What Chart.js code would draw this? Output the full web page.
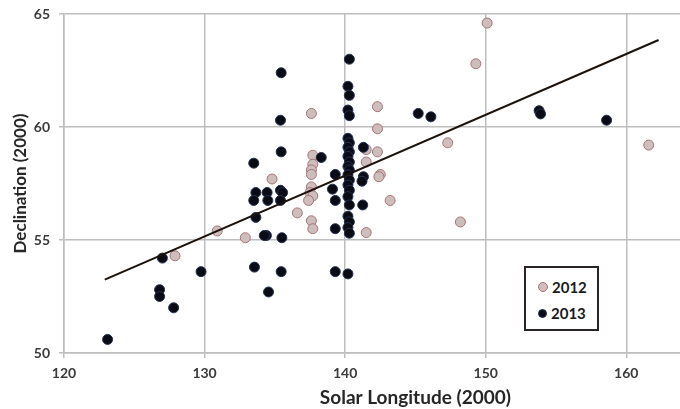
<!DOCTYPE html>
<html>
<head>
<meta charset="utf-8">
<script src="https://cdn.jsdelivr.net/npm/chart.js@4"></script>
<style>
  html, body { margin: 0; padding: 0; background: #fff; overflow: hidden; }
  #wrap { position: relative; width: 680px; height: 409px; overflow: hidden; }
  #myChart { position: absolute; left: 0; top: 0; }
  #legend {
    position: absolute; left: 524px; top: 266px; width: 71px; height: 61px;
    border: 2px solid #2b2424; background: #fff;
    font: bold 15px Lato, "Open Sans", sans-serif; color: #1a1a1a;
  }
  #legend .item { position: absolute; left: 12px; height: 16px; line-height: 16px; }
  #legend .dot { display: inline-block; border-radius: 50%; vertical-align: middle; margin-right: 4px; }
  #legend span { vertical-align: middle; }
</style>
</head>
<body>
<div id="wrap">
  <canvas id="myChart" width="786" height="409"></canvas>
  <div id="legend"></div>
</div>
<script>
// series
let years = ['2012', '2013'];

let lon2012 = [127.9, 130.9, 132.9, 134.8, 136.6, 137.6,
  137.7, 137.7, 137.6, 137.6, 137.6, 137.5, 137.7, 137.4, 137.6, 137.7,
  141.5, 142.3, 141.5, 142.5, 142.4, 143.2, 141.5, 142.3, 142.3,
  147.3, 148.2, 149.3, 150.1, 161.6];
let dec2012 = [54.3, 55.4, 55.1, 57.7, 56.2, 60.6,
  58.75, 58.35, 58.1, 57.9, 57.35, 57.1, 56.95, 56.75, 55.85, 55.5,
  59.0, 58.9, 58.45, 57.9, 57.8, 56.75, 55.33, 60.9, 59.92,
  59.3, 55.8, 62.8, 64.6, 59.2];

let lon2013 = [123.1, 126.8, 126.8, 127.8, 127.0, 129.75,
  133.5, 133.65, 133.5, 133.65, 133.55,
  134.45, 134.5, 134.4, 134.25, 134.55,
  135.45, 135.4, 135.45, 135.4, 135.55, 135.4, 135.5, 135.45,
  138.3, 139.3, 139.1, 139.3, 139.3, 139.3,
  140.3, 140.2, 140.3, 140.2, 140.3, 140.2, 140.3, 140.2, 140.3, 140.2, 140.3, 140.2,
  140.3, 140.2, 140.3, 140.2, 140.3, 140.2, 140.3, 140.2, 140.3, 140.2, 140.3, 140.2,
  141.3, 141.3, 141.2, 141.25,
  145.2, 146.1, 153.8, 153.9, 158.6];
let dec2013 = [50.6, 52.8, 52.5, 52.0, 54.2, 53.6,
  58.4, 57.1, 56.75, 56.0, 53.8,
  57.1, 56.75, 55.2, 55.2, 52.7,
  62.4, 60.3, 58.9, 57.2, 57.1, 56.75, 55.1, 53.6,
  58.65, 57.9, 57.25, 56.75, 55.5, 53.6,
  63.0, 61.8, 61.4, 60.75, 60.5, 59.5, 59.3, 59.1, 58.9, 58.7, 58.45, 58.25,
  58.1, 57.88, 57.65, 57.43, 57.2, 56.92, 56.55, 56.05, 55.8, 55.55, 55.3, 53.5,
  59.1, 57.8, 57.6, 56.55,
  60.6, 60.45, 60.72, 60.58, 60.3];

// linear trendline end points
let trendLon = [122.9, 162.3];
let trendDec = [53.25, 63.85];

let xTicks = [120, 130, 140, 150, 160, 170];
let yTicks = [50, 55, 60, 65];

function pts(xs, ys) {
  return xs.map((x, i) => ({ x: x, y: ys[i] }));
}

let colors = {
  '2012': { fill: '#cdbdbd', edge: '#a87474' },
  '2013': { fill: '#0b0b16', edge: '#22314f' }
};

let tickFont = { family: 'Lato', size: 14, weight: 'bold' };
let gridColor = '#bdbdbd';

let myChart = document.getElementById('myChart').getContext('2d');

let chart = new Chart(myChart, {
  type: 'scatter',
  data: {
    datasets: [
      {
        label: years[0],
        data: pts(lon2012, dec2012),
        backgroundColor: colors['2012'].fill,
        borderColor: colors['2012'].edge,
        borderWidth: 1,
        pointRadius: 5,
        order: 3
      },
      {
        label: years[1],
        data: pts(lon2013, dec2013),
        backgroundColor: colors['2013'].fill,
        borderColor: colors['2013'].edge,
        borderWidth: 1,
        pointRadius: 5,
        order: 2
      },
      {
        label: 'trend',
        data: pts(trendLon, trendDec),
        showLine: true,
        borderColor: '#1c120c',
        borderWidth: 2,
        pointRadius: 0,
        order: 1
      }
    ]
  },
  options: {
    responsive: false,
    animation: false,
    devicePixelRatio: 1,
    layout: { padding: { top: 14, right: 12, left: 0, bottom: 0 } },
    plugins: {
      legend: { display: false }, // drawn as html box below
      tooltip: { enabled: false }
    },
    scales: {
      x: {
        type: 'linear',
        min: xTicks[0],
        max: xTicks[xTicks.length - 1],
        afterBuildTicks: (s) => { s.ticks = xTicks.map(v => ({ value: v })); },
        afterFit: (s) => { s.height = 56; },
        ticks: { font: tickFont, color: '#3a3a3a', padding: 7, maxRotation: 0 },
        grid: { color: gridColor, lineWidth: 1.5, tickLength: 5 },
        border: { color: gridColor, width: 1.5 },
        title: { display: true, text: 'Solar Longitude (2000)', font: { family: 'Lato', size: 19, weight: 'bold' }, color: '#262626', padding: { top: 0, bottom: 0 } }
      },
      y: {
        min: yTicks[0],
        max: yTicks[yTicks.length - 1],
        afterBuildTicks: (s) => { s.ticks = yTicks.map(v => ({ value: v })); },
        afterFit: (s) => { s.width = 64; s.paddingTop = 0; s.paddingBottom = 0; },
        ticks: { font: tickFont, color: '#3a3a3a', padding: 9 },
        grid: { color: gridColor, lineWidth: 1.5, tickLength: 5 },
        border: { color: gridColor, width: 1.5 },
        title: { display: true, text: 'Declination (2000)', font: { family: 'Lato', size: 17, weight: 'bold' }, color: '#262626', padding: { top: 10, bottom: 0 } }
      }
    }
  }
});

// legend box in the lower right of the plot
let legend = document.getElementById('legend');
years.forEach((yr, i) => {
  let item = document.createElement('div');
  item.className = 'item';
  item.style.top = (9 + i * 26) + 'px';
  let d = i === 0 ? 8 : 7;
  item.innerHTML = '<span class="dot" style="width:' + d + 'px;height:' + d + 'px;background:' +
    colors[yr].fill + ';border:1px solid ' + colors[yr].edge + '"></span><span>' + yr + '</span>';
  legend.appendChild(item);
});
</script>
</body>
</html>
